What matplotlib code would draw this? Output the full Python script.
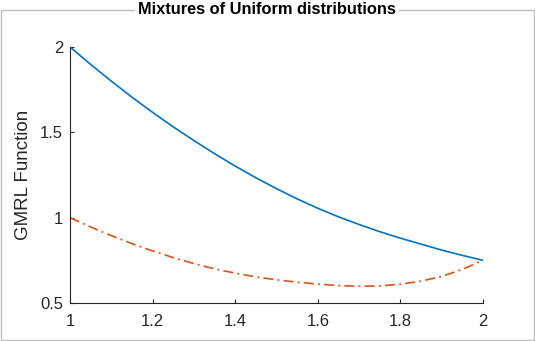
import matplotlib
matplotlib.use("Agg")
import matplotlib.pyplot as plt
from matplotlib.patches import Rectangle

x_vals = [1.00, 1.05, 1.10, 1.15, 1.20, 1.25, 1.30, 1.35, 1.40, 1.45, 1.50,
          1.55, 1.60, 1.65, 1.70, 1.75, 1.80, 1.85, 1.90, 1.95, 2.00]
blue_vals = [2.000, 1.898, 1.800, 1.706, 1.617, 1.532, 1.452, 1.375, 1.302, 1.234, 1.170,
             1.110, 1.055, 1.005, 0.960, 0.918, 0.880, 0.845, 0.810, 0.779, 0.750]
orange_vals = [1.000, 0.945, 0.895, 0.848, 0.805, 0.766, 0.731, 0.700, 0.675, 0.653, 0.636,
               0.622, 0.611, 0.602, 0.598, 0.600, 0.610, 0.628, 0.656, 0.697, 0.750]
x_ticks = [1, 1.2, 1.4, 1.6, 1.8, 2]
x_tick_labels = ["1", "1.2", "1.4", "1.6", "1.8", "2"]
y_ticks = [0.5, 1, 1.5, 2]
y_tick_labels = ["0.5", "1", "1.5", "2"]

plt.rcParams['font.family'] = ['Liberation Sans', 'DejaVu Sans']

W, H = 535, 341
fig = plt.figure(figsize=(W / 100, H / 100), dpi=100)
fig.patch.set_facecolor("white")

# panel frame
frame = Rectangle((1 / W, 1 - 340 / H), 533 / W, 330 / H, transform=fig.transFigure,
                  fill=False, edgecolor="#bdbdbd", linewidth=1.0)
fig.add_artist(frame)
fig.text(267 / W, 1 - 10 / H, "Mixtures of Uniform distributions", ha="center", va="center",
         fontsize=11.8, fontweight="bold", color="black",
         bbox=dict(facecolor="white", edgecolor="none", pad=2))

ax = fig.add_axes([70 / W, 38 / H, 413 / W, 256 / H])
ax.plot(x_vals, blue_vals, color="#0072BD", linewidth=1.2, linestyle="-")
ax.plot(x_vals, orange_vals, color="#D95319", linewidth=1.2, linestyle=(0, (6, 2.5, 1.2, 2.5)))

ax.set_xlim(1, 2)
ax.set_ylim(0.5, 2)
ax.set_xticks(x_ticks)
ax.set_xticklabels(x_tick_labels)
ax.set_yticks(y_ticks)
ax.set_yticklabels(y_tick_labels)
for s in ["top", "right"]:
    ax.spines[s].set_visible(False)
for s in ["left", "bottom"]:
    ax.spines[s].set_color("#262626")
    ax.spines[s].set_linewidth(0.8)
ax.tick_params(direction="in", length=3, width=0.8, colors="#262626", labelsize=12,
               labelcolor="#262626")
ax.tick_params(axis="x", pad=8)
ax.tick_params(axis="y", pad=5)
ax.set_ylabel("GMRL Function", fontsize=13.5, color="#262626")
ax.yaxis.set_label_coords(-0.092, 0.5)

fig.savefig("out.png", dpi=100, facecolor="white")
